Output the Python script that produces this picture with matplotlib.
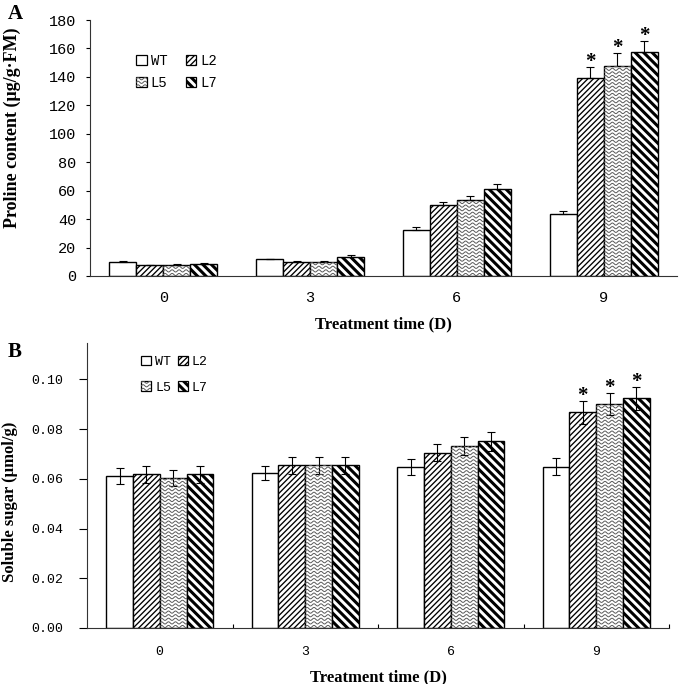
import numpy as np
import matplotlib
matplotlib.use("Agg")
import matplotlib.pyplot as plt
from matplotlib.lines import Line2D
from matplotlib.patches import Patch
from matplotlib.transforms import IdentityTransform

days = ['0', '3', '6', '9']
lines = ['WT', 'L2', 'L5', 'L7']

# proline content (ug/g FM)
proline_wt = [9.8, 11.7, 32.3, 43.4]
proline_l2 = [7.6, 9.7, 50.0, 139.0]
proline_l5 = [7.8, 10.1, 53.4, 147.7]
proline_l7 = [8.7, 13.7, 61.0, 157.3]
proline_err_wt = [0.6, 0.5, 2.3, 2.2]
proline_err_l2 = [0.4, 0.6, 2.2, 8.2]
proline_err_l5 = [0.5, 0.7, 3.0, 9.0]
proline_err_l7 = [0.6, 0.8, 3.7, 8.0]

# soluble sugar (umol/g)
sugar_wt = [0.0611, 0.0624, 0.0646, 0.0649]
sugar_l2 = [0.0618, 0.0655, 0.0705, 0.0867]
sugar_l5 = [0.0604, 0.0655, 0.0733, 0.0900]
sugar_l7 = [0.0618, 0.0655, 0.0751, 0.0923]
sugar_err_wt = [0.0031, 0.0028, 0.0032, 0.0034]
sugar_err_l2 = [0.0033, 0.0034, 0.0034, 0.0045]
sugar_err_l5 = [0.0031, 0.0034, 0.0036, 0.0045]
sugar_err_l7 = [0.0033, 0.0034, 0.0038, 0.0045]

# significant difference vs WT (marked with *)
signif = [False, False, False, True]

MONO = 'Liberation Mono'
SERIF = 'Liberation Serif'
BAR_W = 0.184


def fill_pattern(fig, patch, kind, zorder=2.5):
    """Draw a custom fill pattern in pixel space, clipped to the patch."""
    bb = patch.get_window_extent()
    x0, y0, x1, y1 = bb.x0, bb.y0, bb.x1, bb.y1
    segs = []
    if kind == 'wave':
        xs = np.arange(x0 - 2, x1 + 2, 0.5)
        for yy in np.arange(y0 + 1.5, y1 + 3, 3.6):
            segs.append((xs, yy + 1.1 * np.sin(2 * np.pi * (xs - x0) / 7.0)))
        col, lw = '0.35', 0.7
    else:  # thick back-diagonal
        h = y1 - y0
        for c in np.arange(x0 - 10, x1 + h + 10, 8.5):
            segs.append((np.array([c - h - 5, c + 5]), np.array([y1 + 5, y0 - 5])))
        col, lw = 'black', 2.2
    for xs, ys in segs:
        ln = Line2D(xs, ys, transform=IdentityTransform(), color=col,
                    lw=lw, zorder=zorder, solid_capstyle='butt')
        ln.set_clip_path(patch)
        fig.add_artist(ln)


def draw_panel(fig, ax, series, errs, two_sided, star_off):
    x = np.arange(len(days))
    styles = [dict(hatch=None), dict(hatch='//////'), dict(hatch=None), dict(hatch=None)]
    bars = []
    for i, (vals, err) in enumerate(zip(series, errs)):
        pos = x + (i - 1.5) * BAR_W
        b = ax.bar(pos, vals, BAR_W, color='white', edgecolor='black',
                   linewidth=1.0, zorder=2, **styles[i])
        yerr = err if two_sided else [np.zeros(len(err)), err]
        ax.errorbar(pos, vals, yerr=yerr, fmt='none', ecolor='black',
                    elinewidth=0.8, capsize=2.6, capthick=0.8, zorder=3)
        bars.append(b)
        if i > 0:
            for j in range(len(days)):
                if signif[j]:
                    ax.annotate('*', (pos[j], vals[j] + err[j]), xytext=(0, star_off),
                                textcoords='offset points', ha='center', va='center',
                                fontsize=15, family=SERIF, fontweight='bold')
    return bars


fig = plt.figure(figsize=(6.85, 6.84), dpi=100)
plt.rcParams['hatch.linewidth'] = 0.95

# ---------- panel A ----------
axA = fig.add_axes([90 / 685, 1 - 276 / 684, 587 / 685, 256 / 684])
barsA = draw_panel(fig, axA, [proline_wt, proline_l2, proline_l5, proline_l7],
                   [proline_err_wt, proline_err_l2, proline_err_l5, proline_err_l7],
                   False, 3.5)
axA.set_xlim(-0.5, 3.5)
axA.set_ylim(0, 180)
axA.set_yticks(np.arange(0, 181, 20))
axA.set_xticks(np.arange(len(days)))
axA.set_xticklabels(days)
axA.tick_params(axis='x', length=0, pad=11)
axA.tick_params(axis='y', length=3, width=0.8, pad=7)
axA.set_ylabel('Proline content (\u03bcg/g\u00b7FM)', family=SERIF, fontweight='bold', fontsize=13)
axA.yaxis.set_label_coords(-0.1175, 0.58)
axA.set_xlabel('Treatment time (D)', family=SERIF, fontweight='bold', fontsize=12)
axA.xaxis.set_label_coords(0.5, -0.156)
for lab in axA.get_xticklabels() + axA.get_yticklabels():
    lab.set_family(MONO)
    lab.set_fontsize(11)
fig.text(8 / 685, 1 - 14 / 684, 'A', family=SERIF, fontweight='bold', fontsize=15, va='center')

# ---------- panel B ----------
axB = fig.add_axes([87 / 685, 1 - 628 / 684, 582 / 685, 285 / 684])
barsB = draw_panel(fig, axB, [sugar_wt, sugar_l2, sugar_l5, sugar_l7],
                   [sugar_err_wt, sugar_err_l2, sugar_err_l5, sugar_err_l7],
                   True, 3.5)
axB.set_xlim(-0.5, 3.5)
axB.set_ylim(0, 0.1146)
axB.set_yticks(np.arange(0, 0.101, 0.02))
axB.set_yticklabels(['%.2f' % v for v in np.arange(0, 0.101, 0.02)])
axB.set_xticks(np.arange(len(days)))
axB.set_xticklabels(days)
axB.set_xticks(np.arange(0.5, 3.6, 1.0), minor=True)
axB.tick_params(axis='x', which='major', length=0, pad=13)
axB.tick_params(axis='x', which='minor', direction='in', length=3, width=0.8)
axB.tick_params(axis='y', length=6, width=0.8, pad=11)
axB.set_ylabel('Soluble sugar (\u03bcmol/g)', family=SERIF, fontweight='bold', fontsize=12)
axB.yaxis.set_label_coords(-0.1186, 0.442)
axB.set_xlabel('Treatment time (D)', family=SERIF, fontweight='bold', fontsize=12)
axB.xaxis.set_label_coords(0.5, -0.144)
for lab in axB.get_xticklabels() + axB.get_yticklabels():
    lab.set_family(MONO)
    lab.set_fontsize(9.5)
fig.text(8 / 685, 1 - 352 / 684, 'B', family=SERIF, fontweight='bold', fontsize=15, va='center')

for ax in (axA, axB):
    for s in ('top', 'right'):
        ax.spines[s].set_visible(False)
    for s in ('left', 'bottom'):
        ax.spines[s].set_linewidth(0.8)
        ax.spines[s].set_color('0.2')

# legends: column-major order gives WT,L2 / L5,L7
hatches = {'WT': None, 'L2': '//////', 'L5': None, 'L7': None}
order = ['WT', 'L5', 'L2', 'L7']
legs = []
for ax, anchor, fs, csp, lsp in ((axA, (0.067, 0.895), 10, 1.3, 0.6),
                                 (axB, (0.082, 0.979), 9.5, 0.5, 1.0)):
    handles = [Patch(facecolor='white', edgecolor='black', linewidth=0.9,
                     hatch=hatches[n], label=n) for n in order]
    leg = ax.legend(handles=handles, ncol=2, loc='upper left', bbox_to_anchor=anchor,
                    frameon=False, handlelength=0.75, handleheight=0.75,
                    handletextpad=0.3, columnspacing=csp, labelspacing=lsp,
                    borderpad=0, prop={'family': MONO, 'size': fs})
    legs.append(leg)

fig.canvas.draw()

for bars in (barsA, barsB):
    for p in bars[2]:
        fill_pattern(fig, p, 'wave')
    for p in bars[3]:
        fill_pattern(fig, p, 'diag')
for leg in legs:
    patches = leg.get_patches()
    fill_pattern(fig, patches[1], 'wave', zorder=6)
    fill_pattern(fig, patches[3], 'diag', zorder=6)

fig.savefig('out.png', dpi=100)
